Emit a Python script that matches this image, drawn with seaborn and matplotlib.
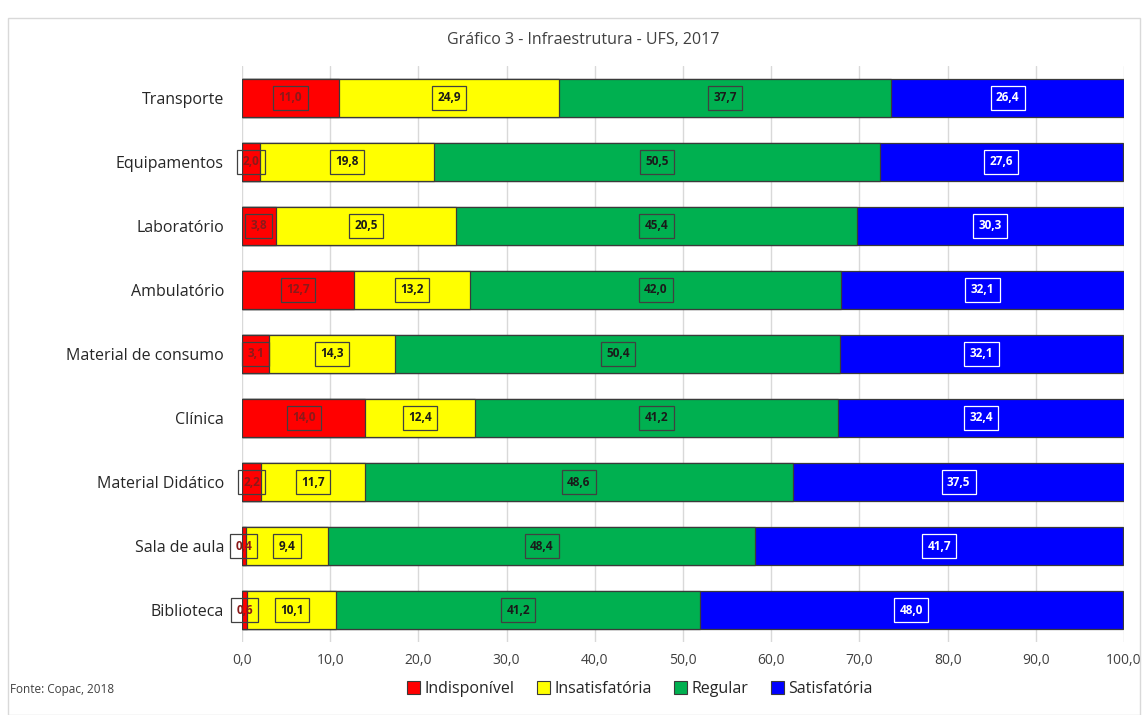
import matplotlib
matplotlib.use("Agg")
import matplotlib.pyplot as plt
import seaborn as sns
import pandas as pd
import numpy as np
from matplotlib.patches import Rectangle, Patch

categories = ["Transporte", "Equipamentos", "Laboratório", "Ambulatório",
              "Material de consumo", "Clínica", "Material Didático",
              "Sala de aula", "Biblioteca"]
indisponivel = [11.0, 2.0, 3.8, 12.7, 3.1, 14.0, 2.2, 0.4, 0.6]
insatisfatoria = [24.9, 19.8, 20.5, 13.2, 14.3, 12.4, 11.7, 9.4, 10.1]
regular = [37.7, 50.5, 45.4, 42.0, 50.4, 41.2, 48.6, 48.4, 41.2]
satisfatoria = [26.4, 27.6, 30.3, 32.1, 32.1, 32.4, 37.5, 41.7, 48.0]
series_names = ["Indisponível", "Insatisfatória", "Regular", "Satisfatória"]
xticks = [0, 10, 20, 30, 40, 50, 60, 70, 80, 90, 100]
title = "Gráfico 3 - Infraestrutura - UFS, 2017"
source = "Fonte: Copac, 2018"

colors = ["#FF0000", "#FFFF00", "#00B050", "#0000FF"]
text_colors = ["#8B1A1A", "#1a1a1a", "#1a1a1a", "#FFFFFF"]
box_colors = ["#404040", "#404040", "#404040", "#FFFFFF"]

sns.set_style("white")
plt.rcParams['font.family'] = ['Open Sans', 'DejaVu Sans']

vals = [indisponivel, insatisfatoria, regular, satisfatoria]
cum = np.cumsum(np.array(vals), axis=0)

fig = plt.figure(figsize=(11.46, 7.15), dpi=100)
ax = fig.add_axes([242/1146, 1-642/715, (1124-242)/1146, (642-66)/715])

# frame around the chart
fig.patches.append(Rectangle((8/1146, 0.0), (1140-8)/1146, 1-18/715,
                             transform=fig.transFigure, fill=False,
                             edgecolor="#D9D9D9", linewidth=1.0, zorder=0))

for i in range(3, -1, -1):
    df = pd.DataFrame({"cat": categories, "v": cum[i]})
    sns.barplot(data=df, y="cat", x="v", ax=ax, color=colors[i],
                orient="h", width=0.58, edgecolor="#3a3a3a", linewidth=0.9,
                saturation=1, zorder=3)

for i in range(4):
    for j, cat in enumerate(categories):
        v = vals[i][j]
        c = cum[i][j] - v / 2
        ax.text(c, j, f"{v:.1f}".replace(".", ","), ha="center", va="center",
                fontsize=8.5, fontweight="bold", color=text_colors[i], zorder=5,
                bbox=dict(boxstyle="square,pad=0.45", facecolor="none",
                          edgecolor=box_colors[i], linewidth=0.9))

ax.set_xlim(0, 100)
ax.set_ylim(len(categories) - 0.5, -0.5)
ax.set_xticks(xticks)
ax.set_xticklabels([f"{t:.1f}".replace(".", ",") for t in xticks],
                   fontsize=10, color="#404040")
ax.tick_params(axis="y", labelsize=11.5, labelcolor="#262626", length=0, pad=13)
ax.tick_params(axis="x", length=0, pad=8)
ax.set_xlabel("")
ax.set_ylabel("")
ax.xaxis.grid(True, color="#D9D9D9", linewidth=1.0, zorder=0)
ax.set_axisbelow(True)
for s in ax.spines.values():
    s.set_visible(False)

fig.text(583/1146, 1-40/715, title, ha="center", va="center",
         fontsize=11.5, color="#404040")
fig.text(10/1146, 1-690/715, source, ha="left", va="center",
         fontsize=8.5, color="#404040")

handles = [Patch(facecolor=colors[i], edgecolor="#3a3a3a", linewidth=0.8,
                 label=series_names[i]) for i in range(4)]
fig.legend(handles=handles, loc="center", bbox_to_anchor=(640/1146, 1-689/715),
           ncol=4, frameon=False, fontsize=11.5, handlelength=0.8,
           handleheight=0.8, handletextpad=0.3, columnspacing=1.4)

fig.savefig("out.png", dpi=100)
